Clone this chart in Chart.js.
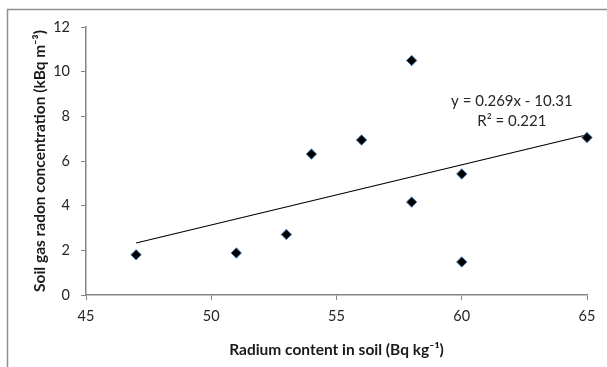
<!DOCTYPE html>
<html>
<head>
<meta charset="utf-8">
<script src="https://cdn.jsdelivr.net/npm/chart.js@4/dist/chart.umd.min.js"></script>
<style>
html,body{margin:0;padding:0;background:#fff;}
canvas{display:block;}
</style>
</head>
<body>
<canvas id="c" width="607" height="367"></canvas>
<script>
// Data
const radium = [47, 51, 53, 54, 56, 58, 58, 60, 60, 65];
const radon  = [1.80, 1.88, 2.71, 6.31, 6.94, 10.50, 4.16, 5.42, 1.48, 7.05];
const trendX = [47, 65];
const trendY = [2.33, 7.175];
const xTicks = [45, 50, 55, 60, 65];
const yTicks = [0, 2, 4, 6, 8, 10, 12];
const eqLines = ['y = 0.269x - 10.31', 'R\u00B2 = 0.221'];
const xTitle = 'Radium content in soil (Bq kg\u207B\u00B9)';
const yTitle = 'Soil gas radon concentration (kBq m\u207B\u00B3)';

const FONT = 'Lato, "Open Sans", "DejaVu Sans", sans-serif';

const framePlugin = {
  id: 'frame',
  beforeDraw(chart) {
    const ctx = chart.ctx;
    ctx.save();
    ctx.fillStyle = '#fff';
    ctx.fillRect(0, 0, chart.width, chart.height);
    ctx.strokeStyle = '#8f8f8f';
    ctx.lineWidth = 1.5;
    ctx.strokeRect(7.5, 9.5, 800, 600);
    ctx.restore();
  }
};

const eqPlugin = {
  id: 'eq',
  afterDatasetsDraw(chart) {
    const ctx = chart.ctx;
    const xs = chart.scales.x, ys = chart.scales.y;
    const cx = xs.getPixelForValue(62);
    const cy = ys.getPixelForValue(8.7);
    ctx.save();
    ctx.fillStyle = '#262626';
    ctx.font = '15px ' + FONT;
    ctx.textAlign = 'center';
    ctx.textBaseline = 'middle';
    ctx.fillText(eqLines[0], cx, cy);
    ctx.fillText(eqLines[1], cx, cy + 20);
    ctx.restore();
  }
};

new Chart(document.getElementById('c'), {
  type: 'scatter',
  data: {
    datasets: [
      {
        label: 'data',
        data: radium.map((x, i) => ({x: x, y: radon[i]})),
        pointStyle: 'rectRot',
        pointRadius: 5.2,
        backgroundColor: '#000',
        borderColor: '#4f81bd',
        borderWidth: 1,
        clip: false,
        order: 1
      },
      {
        label: 'trend',
        type: 'line',
        data: trendX.map((x, i) => ({x: x, y: trendY[i]})),
        showLine: true,
        borderColor: '#000',
        borderWidth: 1.2,
        pointRadius: 0,
        fill: false,
        clip: false,
        order: 2
      }
    ]
  },
  options: {
    responsive: false,
    animation: false,
    events: [],
    layout: { padding: { left: 10, top: 27, right: 20, bottom: 0 } },
    plugins: { legend: { display: false }, tooltip: { enabled: false } },
    scales: {
      x: {
        type: 'linear',
        min: 45, max: 65,
        afterBuildTicks(s) { s.ticks = xTicks.map(v => ({value: v})); },
        afterFit(s) { s.height = 72; },
        grid: { drawOnChartArea: false, drawTicks: true, tickLength: 5, color: '#868686', lineWidth: 1 },
        border: { display: true, color: '#868686', width: 1.5 },
        ticks: { color: '#262626', font: { family: FONT, size: 14.5 }, padding: 8, maxRotation: 0 },
        title: { display: true, text: xTitle, color: '#1a1a1a', font: { family: FONT, size: 15.5, weight: 'bold' }, padding: { top: 0, bottom: 8 } }
      },
      y: {
        type: 'linear',
        min: 0, max: 12,
        afterBuildTicks(s) { s.ticks = yTicks.map(v => ({value: v})); },
        afterFit(s) { s.width = 76; },
        grid: { drawOnChartArea: false, drawTicks: true, tickLength: 5, color: '#868686', lineWidth: 1 },
        border: { display: true, color: '#868686', width: 1.5 },
        ticks: { color: '#262626', font: { family: FONT, size: 14.5 }, padding: 11 },
        title: { display: true, text: yTitle, color: '#1a1a1a', font: { family: FONT, size: 15.5, weight: 'bold' }, padding: { top: 21, bottom: 0 } }
      }
    }
  },
  plugins: [framePlugin, eqPlugin]
});
</script>
</body>
</html>
